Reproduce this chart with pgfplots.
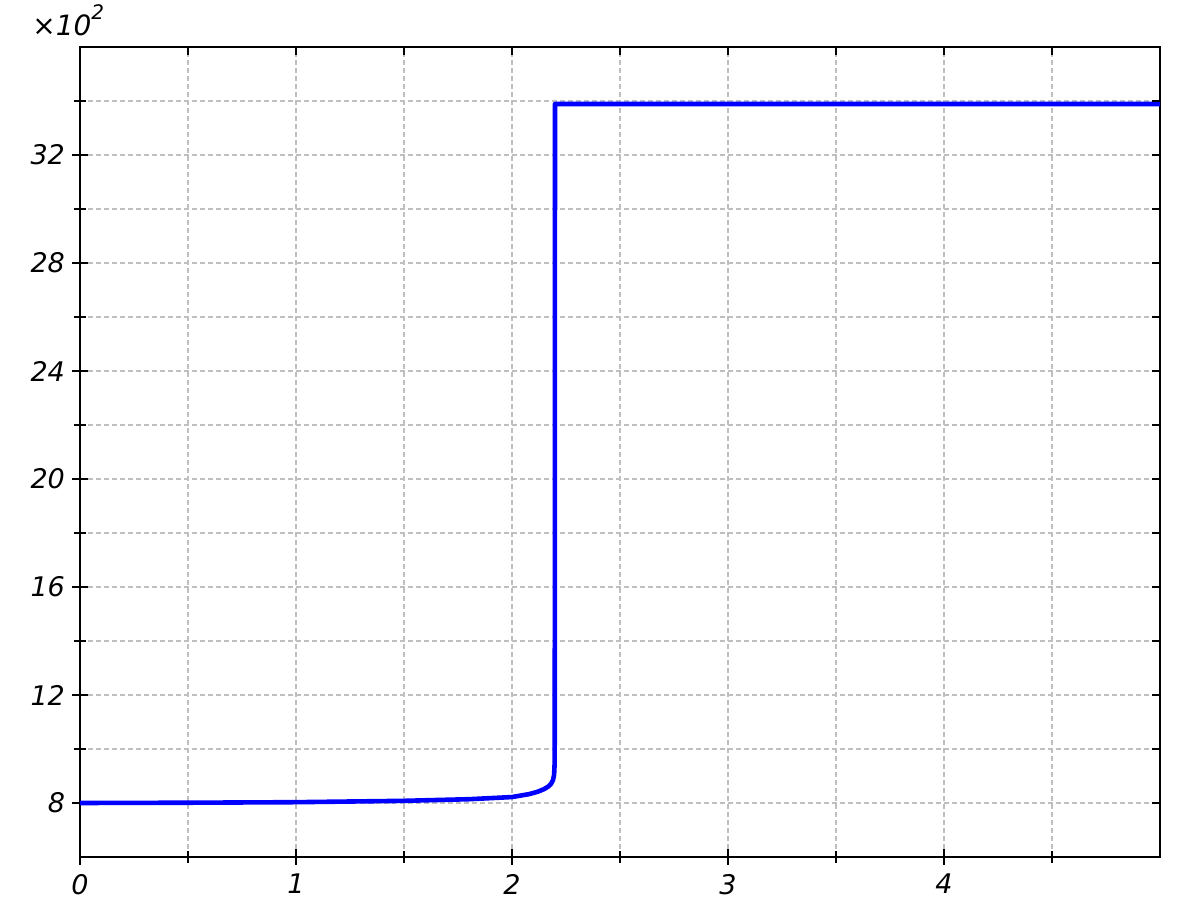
\documentclass[border=0pt]{standalone}
\usepackage{fontspec}
\setmainfont{DejaVu Sans}
\usepackage{pgfplots}
\pgfplotsset{compat=1.18}
\begin{document}
\begin{tikzpicture}
\begin{axis}[
  scale only axis, width=540pt, height=405pt,
  xmin=0, xmax=5, ymin=600, ymax=3600,
  axis line style={line width=1.2pt},
  xtick={0,1,2,3,4}, minor xtick={0.5,1.5,2.5,3.5,4.5},
  ytick={800,1200,1600,2000,2400,2800,3200},
  yticklabels={8,12,16,20,24,28,32},
  minor ytick={1000,1400,1800,2200,2600,3000,3400},
  xtick pos=bottom, ytick pos=left,
  tick align=center,
  major tick length=8pt, minor tick length=6pt,
  tick style={black, line width=1pt},
  grid=both,
  major grid style={gray!50, dash pattern=on 2.5pt off 1.5pt, line width=0.6pt},
  minor grid style={gray!50, dash pattern=on 2.5pt off 1.5pt, line width=0.6pt},
  ticklabel style={font=\itshape\fontsize{13.5}{15}\selectfont},
  xticklabel style={yshift=-1pt},
  /pgf/number format/assume math mode=true,
  clip=true,
]
\addplot[blue, line width=2.3pt, line join=round] coordinates {
 (0,800) (0.5,801) (1.0,803) (1.5,808) (1.8,814) (2.0,822) (2.08,833)
 (2.12,842) (2.15,852) (2.17,862) (2.18,870) (2.19,885) (2.195,905)
 (2.197,940) (2.198,1050) (2.199,3389) (5,3389)
};
\end{axis}
\begin{axis}[
  scale only axis, width=540pt, height=405pt,
  xmin=0, xmax=5, ymin=600, ymax=3600,
  axis line style={draw=none},
  xtick={0.5,1,...,4.5}, ytick={800,1000,...,3400},
  xticklabels={}, yticklabels={},
  xtick pos=top, ytick pos=right,
  tick align=inside,
  major tick length=4pt,
  tick style={black, line width=1pt},
]
\end{axis}
\node[anchor=base west, font=\itshape\fontsize{14}{16}\selectfont, inner sep=0pt]
  at ([xshift=-24pt, yshift=5.5pt]current axis.north west) {×10\raisebox{0.6em}{\fontsize{10}{11}\selectfont 2}};
\useasboundingbox (current axis.south west) ++(-40pt,-30.5pt) rectangle ([xshift=16pt,yshift=23.5pt]current axis.north east);
\end{tikzpicture}
\end{document}
